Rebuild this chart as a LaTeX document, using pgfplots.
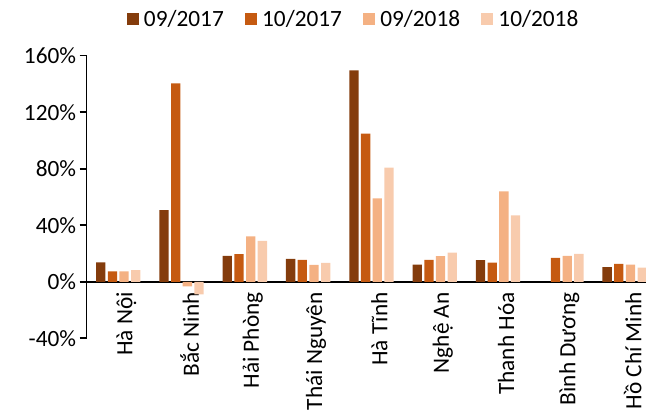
\documentclass[border=0pt]{standalone}
\usepackage{fontspec}
\setmainfont{Carlito}
\usepackage{pgfplots}
\pgfplotsset{compat=1.18}
\definecolor{c1}{HTML}{843C0C}
\definecolor{c2}{HTML}{C55A11}
\definecolor{c3}{HTML}{F4B183}
\definecolor{c4}{HTML}{F8CBAD}
\newcommand\ff{\fontsize{23.3pt}{28pt}\selectfont}
\pgfplotsset{sq/.style={legend image code/.code={\fill[##1] (0pt,-5pt) rectangle (12pt,7pt);}}}
\begin{document}
\begin{tikzpicture}[x=1pt,y=1pt]
\begin{axis}[
  at={(0,0)}, anchor=south west,
  scale only axis, width=569.7pt, height=282.6pt,
  ybar=2.37pt, bar width=9.3pt,
  xmin=-0.5, xmax=8.5, ymin=-40, ymax=160,
  axis x line*=middle, axis y line*=left,
  axis line style={line width=1.6pt, black},
  hide obscured y ticks=false,
  xtick={0,...,8},
  xticklabels={Hà Nội, Bắc Ninh, Hải Phòng, Thái Nguyên, Hà Tĩnh, Nghệ An, Thanh Hóa, Bình Dương, Hồ Chí Minh},
  x tick style={draw=none},
  xticklabel style={rotate=90, anchor=east, font=\ff, yshift=-8pt},
  ytick={-40,0,40,80,120,160},
  yticklabels={-40\%, 0\%, 40\%, 80\%, 120\%, 160\%},
  yticklabel style={font=\ff},
  y tick style={line width=1.6pt, black},
  tick align=outside, major tick length=7pt,
  legend columns=4,
  legend style={draw=none, fill=none, inner sep=0pt, outer sep=0pt,
    at={(0.0709,1.128)}, anchor=west, font=\ff,
    nodes={inner sep=0pt},
    /tikz/every odd column/.append style={column sep=5pt},
    /tikz/every even column/.append style={column sep=21.3pt}},
]
\addplot[fill=c1, draw=none, sq] coordinates {(0,13.7) (1,50.7) (2,18.3) (3,16.2) (4,149.6) (5,12.2) (6,15.3) (8,10.3)};
\addplot[fill=c2, draw=none, sq] coordinates {(0,7.3) (1,140.5) (2,19.5) (3,15.5) (4,104.8) (5,15.5) (6,13.6) (7,16.9) (8,12.7)};
\addplot[fill=c3, draw=none, sq] coordinates {(0,7.3) (1,-3.3) (2,32.2) (3,12.0) (4,59.0) (5,18.1) (6,63.9) (7,18.3) (8,12.2)};
\addplot[fill=c4, draw=none, sq] coordinates {(0,8.2) (1,-8.9) (2,28.9) (3,13.4) (4,80.8) (5,20.7) (6,47.0) (7,19.7) (8,10.1)};
\legend{09/2017, 10/2017, 09/2018, 10/2018}
\end{axis}
\pgfresetboundingbox
\useasboundingbox (-86.6,-73.7) rectangle (559.4,338.3);
\end{tikzpicture}
\end{document}
